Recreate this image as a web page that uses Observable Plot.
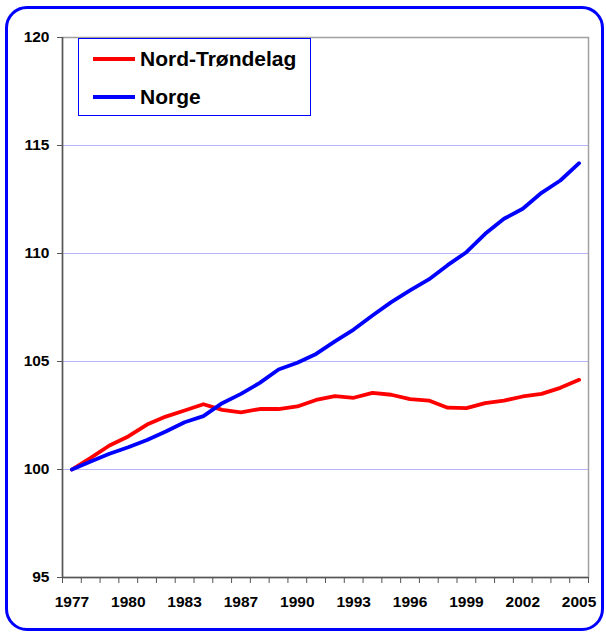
<!DOCTYPE html>
<html>
<head>
<meta charset="utf-8">
<script src="https://cdn.jsdelivr.net/npm/d3@7"></script>
<script src="https://cdn.jsdelivr.net/npm/@observablehq/plot@0.6"></script>
<style>
  html, body { margin: 0; padding: 0; background: #fff; }
  #wrap { position: relative; width: 606px; height: 632px; overflow: hidden; font-family: "Liberation Sans", Arial, sans-serif; }
  #chart { position: absolute; left: 0; top: 0; }
  #border { position: absolute; left: 5px; top: 6px; width: 593px; height: 619px; border: 3px solid #0000ff; border-radius: 22px; pointer-events: none; }
  #legend { position: absolute; left: 78px; top: 38px; width: 231px; height: 76px; border: 1px solid #0000ff; background: #fff; }
  .item { position: absolute; left: 14px; height: 24px; display: flex; align-items: center; font-weight: bold; font-size: 21px; color: #000; white-space: nowrap; }
  .swatch { width: 42px; height: 4px; margin-right: 5px; }
</style>
</head>
<body>
<div id="wrap">
  <div id="chart"></div>
  <div id="legend"></div>
  <div id="border"></div>
</div>
<script>
const years = ["1977","1978","1979","1980","1981","1982","1983","1984","1986","1987","1988","1989","1990","1991","1992","1993","1994","1995","1996","1997","1998","1999","2000","2001","2002","2003","2004","2005"];
const nordTrondelag = [100, 100.54, 101.11, 101.53, 102.08, 102.45, 102.73, 103.02, 102.76, 102.65, 102.8, 102.8, 102.92, 103.22, 103.4, 103.32, 103.55, 103.46, 103.26, 103.19, 102.86, 102.84, 103.07, 103.19, 103.38, 103.5, 103.78, 104.15];
const norge = [100, 100.37, 100.73, 101.03, 101.37, 101.76, 102.19, 102.47, 103.07, 103.5, 104.01, 104.63, 104.94, 105.35, 105.93, 106.48, 107.13, 107.75, 108.29, 108.8, 109.46, 110.06, 110.91, 111.61, 112.07, 112.81, 113.38, 114.18];
const seriesNames = ["Nord-Trøndelag", "Norge"];
const seriesColors = ["#ff0000", "#0000ff"];
const yTicks = [95, 100, 105, 110, 115, 120];
const gridTicks = [100, 105, 110, 115];
const labelEvery = 3;

const rows = [];
[nordTrondelag, norge].forEach((vals, s) => {
  vals.forEach((v, i) => rows.push({i, year: years[i], value: v, series: seriesNames[s]}));
});

const xDomain = [-0.5, years.length - 0.5];
const labelTicks = d3.range(0, years.length, labelEvery);
const boundaryTicks = d3.range(xDomain[0], xDomain[1] + 0.01, 1);

const chart = Plot.plot({
  width: 606,
  height: 632,
  marginLeft: 62,
  marginRight: 18,
  marginTop: 37,
  marginBottom: 55,
  style: {fontFamily: "'Liberation Sans', Arial, sans-serif", fontWeight: "bold", fontSize: "15px", color: "#000", background: "transparent"},
  x: {type: "linear", domain: xDomain},
  y: {domain: [yTicks[0], yTicks[yTicks.length - 1]]},
  color: {domain: seriesNames, range: seriesColors},
  marks: [
    Plot.ruleY(gridTicks, {stroke: "#b4b4ff", strokeWidth: 1.5, shapeRendering: "crispEdges"}),
    Plot.frame({stroke: "#a0a0a0", strokeWidth: 1.5}),
    Plot.ruleX([xDomain[0]], {stroke: "#555", strokeWidth: 1.5}),
    Plot.ruleY([yTicks[0]], {stroke: "#555", strokeWidth: 1.5}),
    Plot.axisY({ticks: yTicks, tickSize: 5, tickPadding: 8, stroke: "#555", fontSize: 15.5, fontWeight: "bold", fill: "#000", label: null}),
    Plot.axisX({ticks: boundaryTicks, tickSize: 6, tickFormat: () => "", stroke: "#555", label: null}),
    Plot.axisX({ticks: labelTicks, tickSize: 0, tickPadding: 18, tickFormat: i => years[i], fontSize: 15.5, fontWeight: "bold", fill: "#000", label: null}),
    Plot.line(rows, {x: "i", y: "value", z: "series", stroke: "series", strokeWidth: 3.8, strokeLinejoin: "round", strokeLinecap: "round"})
  ]
});
document.getElementById("chart").appendChild(chart);

const legend = document.getElementById("legend");
seriesNames.forEach((name, k) => {
  const item = document.createElement("div");
  item.className = "item";
  item.style.top = (k === 0 ? 8 : 46) + "px";
  const sw = document.createElement("span");
  sw.className = "swatch";
  sw.style.background = seriesColors[k];
  const t = document.createElement("span");
  t.textContent = name;
  item.appendChild(sw);
  item.appendChild(t);
  legend.appendChild(item);
});
</script>
</body>
</html>
